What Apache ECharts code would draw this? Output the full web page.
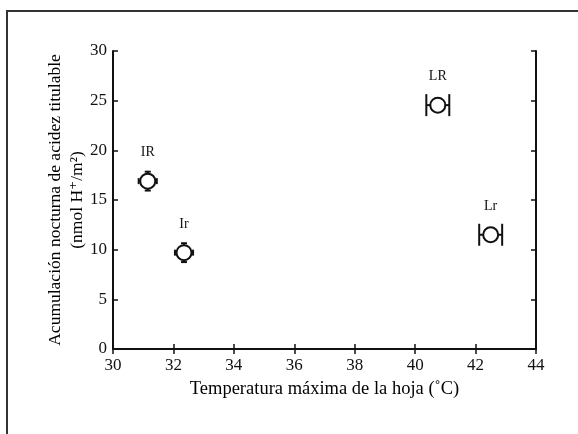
<!DOCTYPE html>
<html>
<head>
<meta charset="utf-8">
<script src="https://cdn.jsdelivr.net/npm/echarts@6/dist/echarts.min.js"></script>
<style>
  html, body { margin: 0; padding: 0; background: #fff; }
  #main { width: 578px; height: 434px; }
</style>
</head>
<body>
<div id="main"></div>
<script>
// treatment labels, leaf max temperature (C), nocturnal acidity (nmol H+/m2)
var names = ['IR', 'Ir', 'LR', 'Lr'];
var tempMax = [31.15, 32.35, 40.75, 42.5];
var acidez = [16.9, 9.7, 24.55, 11.5];
var tempErr = [0.3, 0.3, 0.38, 0.38];
var acidErr = [0.95, 0.95, 0, 0];

var serif = '"Liberation Serif", "DejaVu Serif", serif';

var pts = names.map(function (n, i) {
    return { name: n, value: [tempMax[i], acidez[i], tempErr[i], acidErr[i]] };
});

function errorBars(params, api) {
    var x = api.value(0), y = api.value(1), ex = api.value(2), ey = api.value(3);
    var c = api.coord([x, y]);
    var l = api.coord([x - ex, y]), r = api.coord([x + ex, y]);
    var t = api.coord([x, y + ey]), b = api.coord([x, y - ey]);
    // long caps when only the x error is shown
    var capH = ey > 0 ? 3 : 11;
    var st = { stroke: '#111', lineWidth: 2 };
    var kids = [
        { type: 'line', shape: { x1: l[0], y1: c[1], x2: r[0], y2: c[1] }, style: st },
        { type: 'line', shape: { x1: l[0], y1: c[1] - capH, x2: l[0], y2: c[1] + capH }, style: st },
        { type: 'line', shape: { x1: r[0], y1: c[1] - capH, x2: r[0], y2: c[1] + capH }, style: st }
    ];
    if (ey > 0) {
        kids.push(
            { type: 'line', shape: { x1: c[0], y1: t[1], x2: c[0], y2: b[1] }, style: st },
            { type: 'line', shape: { x1: c[0] - 3, y1: t[1], x2: c[0] + 3, y2: t[1] }, style: st },
            { type: 'line', shape: { x1: c[0] - 3, y1: b[1], x2: c[0] + 3, y2: b[1] }, style: st }
        );
    }
    return { type: 'group', children: kids };
}

var axisText = { color: '#111', fontFamily: serif, fontSize: 17 };

option = {
    backgroundColor: '#fff',
    animation: false,
    grid: { left: 113, right: 42, top: 51, bottom: 85 },
    graphic: [{
        type: 'rect',
        shape: { x: 7, y: 11, width: 620, height: 480 },
        style: { fill: 'none', stroke: '#333', lineWidth: 2 },
        z: -1
    }],
    xAxis: [{
        type: 'value', min: 30, max: 44, interval: 2,
        name: 'Temperatura máxima de la hoja (˚C)',
        nameLocation: 'middle', nameGap: 31,
        nameTextStyle: { color: '#000', fontFamily: serif, fontSize: 18.5 },
        axisLine: { lineStyle: { color: '#111', width: 2 } },
        axisTick: { inside: true, length: 5, lineStyle: { color: '#111', width: 1.5 } },
        axisLabel: Object.assign({ margin: 8 }, axisText),
        splitLine: { show: false }
    }, {
        type: 'value', min: 30, max: 44, interval: 2, position: 'top',
        axisLine: { lineStyle: { color: '#111', width: 2 } },
        axisTick: { inside: true, length: 5, lineStyle: { color: '#111', width: 1.5 } },
        axisLabel: { show: false },
        splitLine: { show: false }
    }],
    yAxis: [{
        type: 'value', min: 0, max: 30, interval: 5,
        name: 'Acumulación nocturna de acidez titulable\n(nmol H⁺/m²)',
        nameLocation: 'middle', nameGap: 25, nameMoveOverlap: false,
        nameTextStyle: { color: '#000', fontFamily: serif, fontSize: 17.5, lineHeight: 22 },
        axisLine: { lineStyle: { color: '#111', width: 2 } },
        axisTick: { inside: true, length: 5, lineStyle: { color: '#111', width: 1.5 } },
        axisLabel: Object.assign({ margin: 6 }, axisText),
        splitLine: { show: false }
    }, {
        type: 'value', min: 0, max: 30, interval: 5, position: 'right',
        axisLine: { lineStyle: { color: '#111', width: 2 } },
        axisTick: { inside: true, length: 5, lineStyle: { color: '#111', width: 1.5 } },
        axisLabel: { show: false },
        splitLine: { show: false }
    }],
    series: [{
        type: 'custom',
        renderItem: errorBars,
        data: pts,
        z: 2
    }, {
        type: 'scatter',
        data: pts,
        symbol: 'circle',
        symbolSize: 15,
        itemStyle: { color: '#fff', borderColor: '#111', borderWidth: 2, opacity: 1 },
        label: {
            show: true, position: 'top', distance: 13,
            formatter: '{b}',
            color: '#111', fontFamily: serif, fontSize: 14
        },
        z: 3
    }]
};

var myChart = echarts.init(document.getElementById('main'));
myChart.setOption(option);
</script>
</body>
</html>
